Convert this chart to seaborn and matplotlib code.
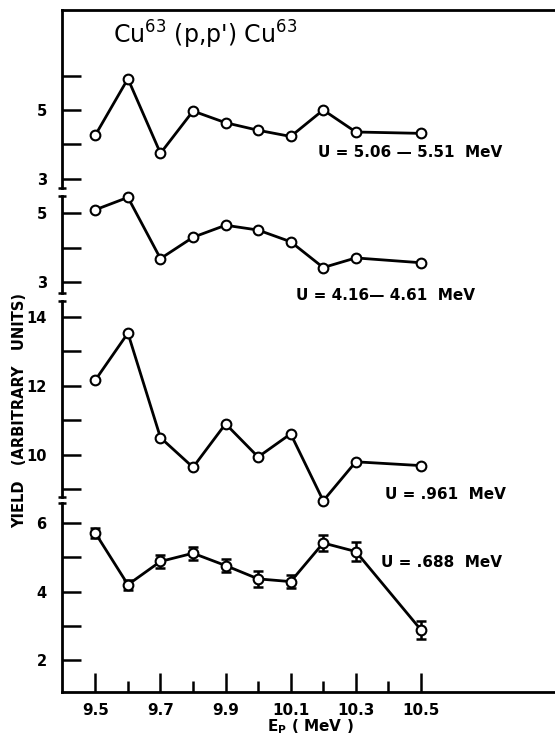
import numpy as np
import pandas as pd
import matplotlib
matplotlib.use("Agg")
import matplotlib.pyplot as plt
import seaborn as sns

# ---------------- data ----------------
energy = [9.5, 9.6, 9.7, 9.8, 9.9, 10.0, 10.1, 10.2, 10.3, 10.5]

yield_u506 = [4.27, 5.91, 3.74, 4.97, 4.63, 4.41, 4.23, 5.00, 4.36, 4.32]
yield_u416 = [5.10, 5.46, 3.68, 4.30, 4.65, 4.51, 4.17, 3.42, 3.70, 3.56]
yield_u961 = [12.17, 13.53, 10.50, 9.64, 10.90, 9.94, 10.61, 8.67, 9.80, 9.69]
yield_u688 = [5.71, 4.20, 4.88, 5.12, 4.76, 4.37, 4.29, 5.42, 5.17, 2.88]
err_u688 = [0.15, 0.15, 0.18, 0.19, 0.18, 0.23, 0.20, 0.22, 0.29, 0.27]

labels = ["U = 5.06 \u2014 5.51  MeV", "U = 4.16\u2014 4.61  MeV",
          "U = .961  MeV", "U = .688  MeV"]
xtick_major = [9.5, 9.7, 9.9, 10.1, 10.3, 10.5]
xtick_minor = [9.6, 9.8, 10.0, 10.2, 10.4]

# ---------------- style ----------------
sns.set_theme(style="white")
plt.rcParams["font.family"] = ["DejaVu Sans"]
plt.rcParams["font.weight"] = "bold"

W, H = 555, 743
fig = plt.figure(figsize=(W / 100, H / 100), dpi=100)

left_px = 62
xlim = (9.3975, 10.929)

# panel spec: (top px, bottom px, ylim, ticks, ticklabels)
panels = [
    (10, 188, (2.73, 7.91), [3, 4, 5, 6], ["3", "", "5", ""]),
    (196, 293, (2.68, 5.50), [3, 4, 5], ["3", "", "5"]),
    (301, 497, (8.78, 14.46), [9, 10, 11, 12, 13, 14], ["", "10", "", "12", "", "14"]),
    (503, 692, (1.06, 6.59), [2, 3, 4, 5, 6], ["2", "", "4", "", "6"]),
]
series = [yield_u506, yield_u416, yield_u961, yield_u688]
label_pos = [(10.183, 3.75), (10.115, 2.62), (10.391, 8.84), (10.376, 4.84)]

axes = []
for i, (top, bot, ylim, ticks, tlabels) in enumerate(panels):
    ax = fig.add_axes([left_px / W, 1 - bot / H, 1 - left_px / W + 0.01, (bot - top) / H])
    ax.set_facecolor("none")
    ax.set_xlim(*xlim)
    ax.set_ylim(*ylim)
    ax.spines["right"].set_visible(False)
    ax.spines["top"].set_visible(i == 0)
    ax.spines["bottom"].set_visible(i == 3)
    for s in ax.spines.values():
        s.set_color("black")
        s.set_linewidth(2)
    ax.set_yticks(ticks)
    ax.set_yticklabels(tlabels)
    ax.tick_params(axis="y", direction="in", length=14, width=1.8, pad=11,
                   labelsize=10.5, colors="black", left=True)
    for t in ax.get_yticklabels():
        t.set_fontweight("bold")
    if i == 3:
        ax.set_xticks(xtick_major)
        ax.set_xticks(xtick_minor, minor=True)
        ax.set_xticklabels(["9.5", "9.7", "9.9", "10.1", "10.3", "10.5"])
        ax.tick_params(axis="x", which="major", direction="in", length=14, width=1.8,
                       pad=8, labelsize=11, colors="black", bottom=True)
        ax.tick_params(axis="x", which="minor", direction="in", length=8, width=1.8,
                       colors="black", bottom=True)
        for t in ax.get_xticklabels():
            t.set_fontweight("bold")
    else:
        ax.set_xticks([])
    ax.grid(False)

    df = pd.DataFrame({"E": energy, "Y": series[i]})
    if i == 3:
        ax.errorbar(energy, yield_u688, yerr=err_u688, fmt="none", ecolor="black",
                    elinewidth=1.8, capsize=3.5, capthick=1.8, zorder=2)
    sns.lineplot(data=df, x="E", y="Y", ax=ax, color="black", linewidth=2,
                 marker="o", markersize=7, markerfacecolor="white",
                 markeredgecolor="black", markeredgewidth=1.5, zorder=3)
    for ln in ax.lines:
        ln.set_clip_on(False)
    ax.set_xlabel("")
    ax.set_ylabel("")

    # break caps on y axis
    cap = 0.009
    if i > 0:
        ax.plot([-cap, cap], [1, 1], transform=ax.transAxes, color="black",
                lw=1.8, clip_on=False, solid_capstyle="butt")
    if i < 3:
        ax.plot([-cap, cap], [0, 0], transform=ax.transAxes, color="black",
                lw=1.8, clip_on=False, solid_capstyle="butt")

    lx, ly = label_pos[i]
    ax.text(lx, ly, labels[i], fontsize=11, fontweight="bold", va="center",
            ha="left", color="black")
    axes.append(ax)

axes[0].text(9.553, 7.18, r"Cu$^{\mathregular{63}}$ (p,p') Cu$^{\mathregular{63}}$",
             fontsize=17, fontweight="normal", va="center", ha="left", color="black")

fig.text(0.036, 0.448, "YIELD   (ARBITRARY   UNITS)", rotation=90, ha="center",
         va="center", fontsize=10.5, fontweight="bold", color="black")
fig.text(0.559, 0.0215, r"E$_{\mathbf{P}}$ ( MeV )", ha="center", va="center",
         fontsize=11, fontweight="bold", color="black")

fig.savefig("out.png", dpi=100, facecolor="white")
